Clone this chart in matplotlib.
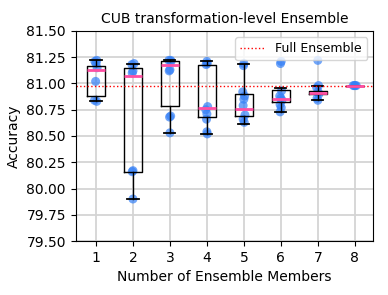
import matplotlib
matplotlib.use("Agg")
import matplotlib.pyplot as plt

members = [1, 2, 3, 4, 5, 6, 7, 8]
full_ensemble = 80.98

# box statistics
q1 = [80.88, 80.16, 80.79, 80.68, 80.69, 80.82, 80.90, 80.98]
med = [81.13, 81.07, 81.18, 80.77, 80.76, 80.85, 80.91, 80.98]
q3 = [81.17, 81.15, 81.21, 81.18, 80.90, 80.94, 80.93, 80.98]
whislo = [80.83, 79.90, 80.53, 80.52, 80.61, 80.73, 80.84, 80.98]
whishi = [81.22, 81.19, 81.22, 81.21, 81.19, 80.96, 80.98, 80.98]

# individual runs (accuracy, horizontal offset)
acc = [
    [81.22, 81.21, 81.19, 81.15, 81.02, 80.84, 80.83],
    [81.19, 81.18, 81.12, 81.10, 80.17, 80.16, 79.90],
    [81.22, 81.22, 81.21, 81.13, 81.12, 80.69, 80.68, 80.53],
    [81.21, 81.18, 81.19, 80.78, 80.75, 80.71, 80.66, 80.54, 80.52],
    [81.19, 81.17, 80.92, 80.88, 80.85, 80.79, 80.70, 80.66, 80.63],
    [81.21, 81.19, 80.93, 80.88, 80.86, 80.84, 80.80, 80.77, 80.73],
    [81.22, 80.98, 80.96, 80.92, 80.90, 80.86, 80.84],
    [80.98, 80.98, 80.98, 80.98],
]
jit = [
    [0.02, -0.03, 0.0, 0.03, -0.01, -0.04, 0.02],
    [0.03, -0.03, 0.0, -0.02, 0.0, -0.02, 0.0],
    [0.02, -0.03, 0.03, 0.0, -0.02, 0.02, -0.01, 0.0],
    [0.0, -0.02, 0.01, 0.02, -0.03, 0.0, -0.01, 0.0, 0.01],
    [0.0, -0.01, -0.03, 0.02, 0.0, -0.02, 0.03, -0.02, 0.01],
    [0.01, -0.01, 0.02, -0.03, 0.0, 0.03, -0.02, 0.01, -0.02],
    [0.0, 0.02, -0.03, 0.01, 0.03, -0.02, 0.0],
    [-0.04, -0.01, 0.01, 0.04],
]

fig, ax = plt.subplots(figsize=(3.88, 2.95), dpi=100)
ax.grid(True, color="#d4d4d4", linewidth=1.3, zorder=0)
ax.set_axisbelow(True)

for i, m in enumerate(members):
    xs = [m + j for j in jit[i]]
    ax.scatter(xs, acc[i], s=42, color="#3580f7", alpha=0.7,
               edgecolors="none", zorder=1.5)

stats = []
for i in range(len(members)):
    stats.append(dict(med=med[i], q1=q1[i], q3=q3[i], whislo=whislo[i],
                      whishi=whishi[i], fliers=[]))
ax.bxp(stats, positions=members, widths=0.5, showfliers=False,
       boxprops=dict(color="black", linewidth=1),
       whiskerprops=dict(color="black", linewidth=1),
       capprops=dict(color="black", linewidth=1.3),
       medianprops=dict(color="#ff4fa3", linewidth=2), capwidths=0.3,
       zorder=2)

ax.axhline(full_ensemble, color="red", linestyle=":", linewidth=1,
           label="Full Ensemble")

ax.set_xlim(0.45, 8.5)
ax.set_ylim(79.5, 81.5)
ax.set_xticks(members)
ax.set_xticklabels([str(m) for m in members])
ax.set_yticks([79.5, 79.75, 80.0, 80.25, 80.5, 80.75, 81.0, 81.25, 81.5])
ax.set_yticklabels(["%.2f" % v for v in ax.get_yticks()])
ax.set_title("CUB transformation-level Ensemble", fontsize=10)
ax.set_xlabel("Number of Ensemble Members")
ax.set_ylabel("Accuracy")
ax.legend(loc="upper right", fontsize=9)

plt.subplots_adjust(left=0.195, right=0.962, top=0.895, bottom=0.183)
plt.savefig("out.png", dpi=100)
